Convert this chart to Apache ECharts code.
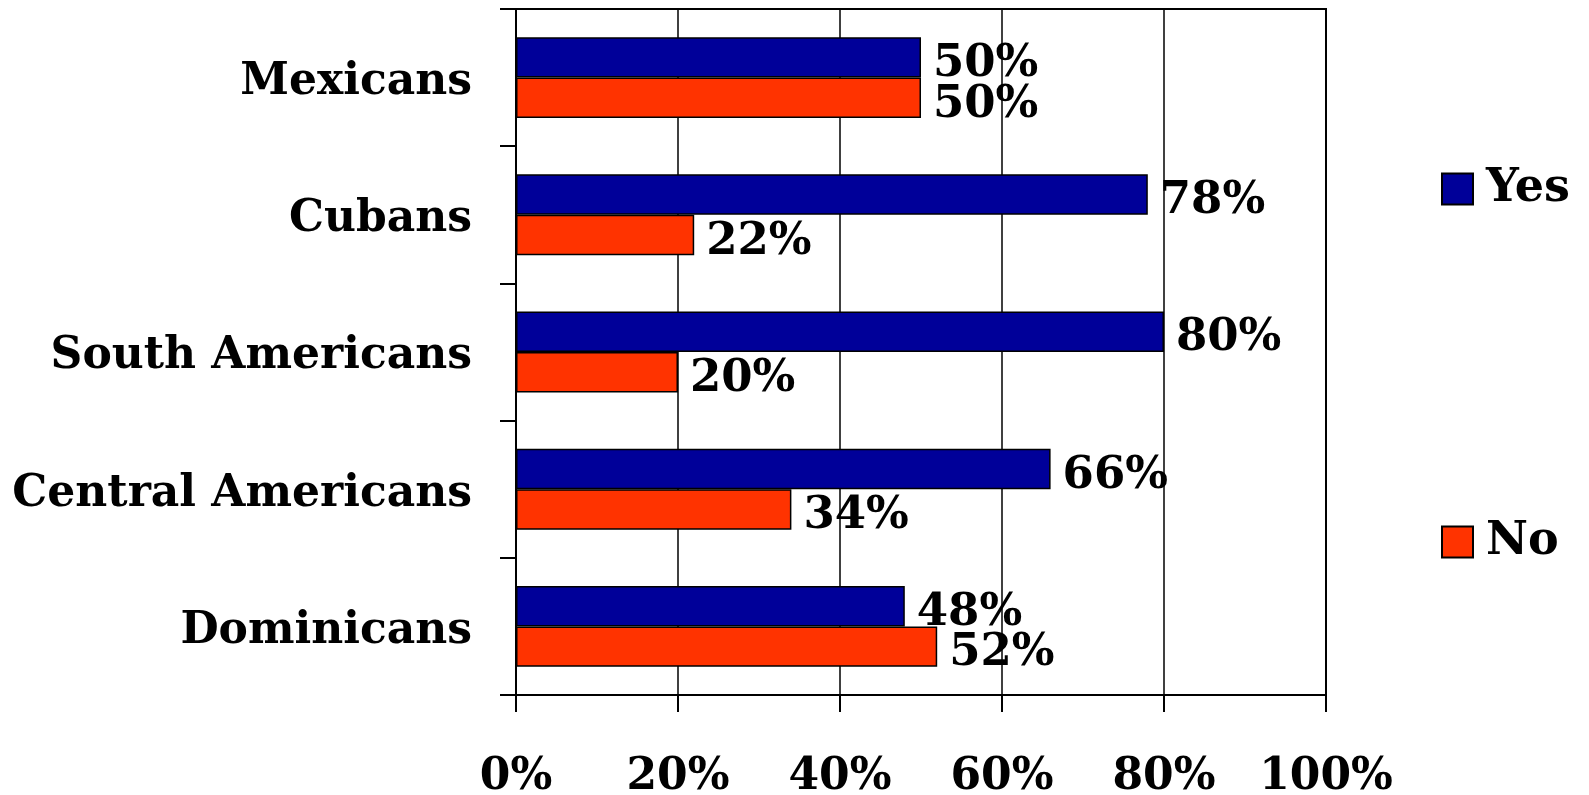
<!DOCTYPE html>
<html>
<head>
<meta charset="utf-8">
<script src="https://cdn.jsdelivr.net/npm/echarts@6/dist/echarts.min.js"></script>
<style>html,body{margin:0;padding:0;background:#fff}#c{width:1589px;height:795px}</style>
</head>
<body>
<div id="c"></div>
<script>
const categories = ['Mexicans', 'Cubans', 'South Americans', 'Central Americans', 'Dominicans'];
const yesValues = [50, 78, 80, 66, 48];
const noValues = [50, 22, 20, 34, 52];
const xTicks = [0, 20, 40, 60, 80, 100];

const FONT = 'DejaVu Serif';
const chart = echarts.init(document.getElementById('c'));
const labelStyle = {
  show: true, position: 'right', distance: 12, offset: [0, 7],
  formatter: '{c}%', color: '#000', fontFamily: FONT, fontWeight: 'bold', fontSize: 45
};
chart.setOption({
  animation: false,
  backgroundColor: '#fff',
  grid: { left: 516, right: 263, top: 9, bottom: 100, outerBoundsMode: 'none',
          show: true, borderColor: '#000', borderWidth: 2 },
  legend: {
    orient: 'vertical', left: 1441, top: 166, padding: 0, itemWidth: 31, itemHeight: 31, itemGap: 307,
    icon: 'rect',
    textStyle: { color: '#000', fontFamily: FONT, fontWeight: 'bold', fontSize: 46, padding: [4, 0, 0, 8] },
    data: ['Yes', 'No']
  },
  xAxis: {
    type: 'value', min: xTicks[0], max: xTicks[xTicks.length - 1], interval: 20,
    axisLine: { show: true, lineStyle: { color: '#000', width: 2 } },
    axisTick: { show: true, length: 17, lineStyle: { color: '#000', width: 2 } },
    splitLine: { show: true, lineStyle: { color: '#000', width: 1.5 } },
    axisLabel: { formatter: '{value}%', margin: 61, color: '#000', fontFamily: FONT, fontWeight: 'bold', fontSize: 44 }
  },
  yAxis: {
    type: 'category', inverse: true, data: categories,
    axisLine: { show: true, lineStyle: { color: '#000', width: 2 } },
    axisTick: { show: true, length: 16, lineStyle: { color: '#000', width: 2 } },
    axisLabel: {
      margin: 44, formatter: '{a|{value}}',
      rich: { a: { color: '#000', fontFamily: FONT, fontWeight: 'bold', fontSize: 44, padding: [10, 0, 0, 0] } }
    }
  },
  series: [
    { name: 'Yes', type: 'bar', data: yesValues, barGap: '0%', barCategoryGap: '41%',
      itemStyle: { color: '#000099', borderColor: '#000', borderWidth: 1.5 }, label: labelStyle },
    { name: 'No', type: 'bar', data: noValues, barGap: '0%', barCategoryGap: '41%',
      itemStyle: { color: '#FF3300', borderColor: '#000', borderWidth: 1.5 }, label: labelStyle }
  ]
});
</script>
</body>
</html>
